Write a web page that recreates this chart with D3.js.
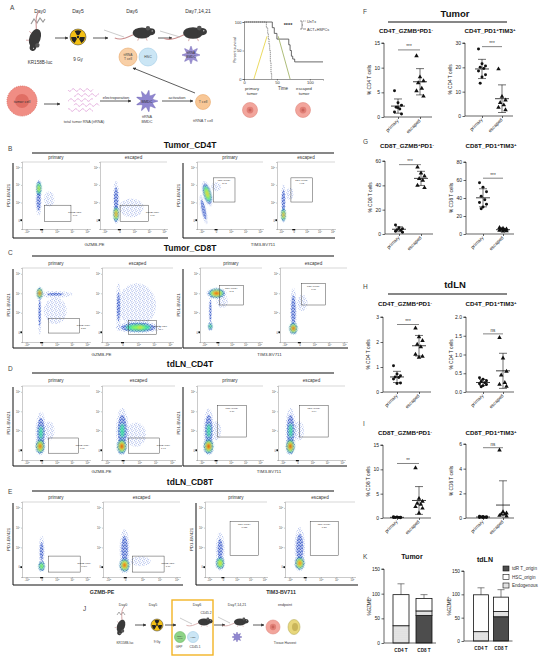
<!DOCTYPE html>
<html>
<head>
<meta charset="utf-8">
<script src="https://cdn.jsdelivr.net/npm/d3@7"></script>
<style>
  body { margin: 0; background: #fff; }
  text { font-family: "Liberation Sans", Arial, sans-serif; }
</style>
</head>
<body>
<svg id="fig" width="550" height="660"></svg>
<script>
// ---------- panel A survival ----------
var survUnTxTime = [0, 34, 36, 37, 38, 39, 40, 41, 42];
var survUnTx     = [100, 90, 80, 70, 60, 50, 30, 10, 0];
var survActTime  = [0, 43, 46, 50, 68, 70, 72, 74, 77, 120];
var survAct      = [100, 90, 80, 70, 60, 50, 40, 35, 30, 30];
var survYellow   = [[15, 0], [35, 75]];
var survGreen    = [[52, 75], [70, 0]];
var survTicks    = [0, 50, 100];

// ---------- flow plots (B-E) ----------
var flowRowTitles = ["Tumor_CD4T", "Tumor_CD8T", "tdLN_CD4T", "tdLN_CD8T"];
var flowGroups = ["primary", "escaped", "primary", "escaped"];
var flowXLabels = ["GZMB-PE", "TIM3-BV711"];
var flowYLabel = "PD1-BV421";
var flowGateNames = ["GZMB+PD1-", "GZMB+PD1-", "PD1+TIM3+", "PD1+TIM3+"];
var flowXTicks = [-1, 0, 1, 2, 3];
var flowYTicks = [0, 1, 2, 3];
var flowXDomain = [-1.3, 3.2];
var flowYDomain = [-0.5, 3.3];
// clusters: [x, y, spreadX, spreadY, peak density, angle]
var tumorCD4Clusters = [
  [[-0.2, 1.1, 0.12, 0.5, 0.3, 0], [-0.18, 1.8, 0.1, 0.25, 0.65, 0], [0.5, 1.2, 0.5, 0.6, 0.09, 0]],
  [[-0.22, 1.2, 0.13, 0.6, 0.3, 0], [-0.22, 0.35, 0.1, 0.25, 0.85, 0], [0.8, 0.7, 0.7, 0.45, 0.14, 0]],
  [[-0.85, 0.6, 0.12, 0.5, 0.3, -12], [-0.6, 1.5, 0.15, 0.35, 0.7, -15], [0.0, 1.9, 0.4, 0.3, 0.1, 0]],
  [[-0.8, 1.1, 0.12, 0.55, 0.3, 0], [-0.8, 0.3, 0.1, 0.2, 0.85, 0], [-0.3, 1.5, 0.4, 0.5, 0.09, 0]]
];
var tumorCD8Clusters = [
  [[-0.13, 2.0, 0.1, 0.15, 1.0, 0], [-0.13, 1.0, 0.08, 0.7, 0.25, 0], [0.9, 1.95, 0.8, 0.12, 0.2, 0], [0.9, 1.1, 0.9, 0.8, 0.1, 0]],
  [[0.9, 1.4, 1.1, 1.0, 0.13, 0], [-0.26, 1.3, 0.1, 0.8, 0.25, 0], [1.0, 0.25, 0.7, 0.15, 0.55, 0], [1.1, 0.25, 0.25, 0.1, 0.7, 0]],
  [[-0.1, 2.0, 0.32, 0.13, 0.95, 0], [-0.55, 1.1, 0.08, 0.6, 0.25, 0], [-0.55, 0.3, 0.1, 0.12, 0.5, 0], [0.3, 1.6, 0.6, 0.5, 0.09, 0]],
  [[-0.4, 0.2, 0.14, 0.15, 1.0, 0], [-0.4, 1.1, 0.13, 0.7, 0.3, 0], [0.2, 1.5, 0.5, 0.6, 0.09, 0]]
];
var lnCD4Clusters = [
  [[-0.1, 0.2, 0.15, 0.2, 0.95, 0], [-0.05, 0.9, 0.2, 0.6, 0.35, 0], [0.5, 1.0, 0.5, 0.7, 0.09, 0]],
  [[-0.08, 0.2, 0.15, 0.2, 1.0, 0], [-0.05, 1.0, 0.22, 0.65, 0.35, 0], [0.8, 0.8, 0.6, 0.6, 0.12, 0]],
  [[-0.51, 0.2, 0.17, 0.2, 1.0, 0], [-0.5, 1.0, 0.2, 0.65, 0.35, 0], [0.0, 1.0, 0.5, 0.7, 0.09, 0]],
  [[-0.47, 0.2, 0.15, 0.2, 1.0, 0], [-0.45, 1.0, 0.2, 0.65, 0.35, 0], [0.1, 1.0, 0.5, 0.7, 0.09, 0]]
];
var lnCD8Clusters = [
  [[0.0, 0.05, 0.12, 0.15, 0.6, 0], [0.0, 0.8, 0.12, 0.5, 0.25, 0]],
  [[-0.04, 0.1, 0.15, 0.18, 0.95, 0], [-0.04, 0.9, 0.17, 0.6, 0.3, 0], [0.9, 0.3, 0.7, 0.3, 0.1, 0]],
  [[-0.2, 0.2, 0.17, 0.18, 0.7, 0], [-0.2, 0.9, 0.2, 0.55, 0.25, 0]],
  [[-0.35, 0.2, 0.16, 0.18, 0.9, 0], [-0.35, 1.0, 0.2, 0.6, 0.3, 0]]
];
// gates: [x0, x1, y0, y1]
var tumorCD4Gates = [[0.19, 1.94, -0.07, 0.85], [0.05, 1.96, -0.07, 0.85], [-0.18, 1.29, 1.03, 2.4], [-0.22, 1.45, 1.03, 2.4]];
var tumorCD8Gates = [[0.46, 2.5, -0.04, 0.72], [0.37, 2.17, -0.1, 0.6], [0.1, 1.85, 1.4, 2.4], [0.16, 1.74, 1.4, 2.5]];
var lnCD4Gates = [[0.46, 2.43, -0.15, 0.63], [0.33, 2.24, -0.15, 0.63], [0.1, 2.07, 0.68, 2.3], [0.16, 2.07, 0.68, 2.3]];
var lnCD8Gates = [[0.46, 2.55, -0.25, 0.56], [0.41, 2.27, -0.25, 0.56], [0.52, 2.6, 0.6, 2.3], [0.32, 2.12, 0.6, 2.3]];
var tumorCD4Pct = ["1.91", "7.09", "19.3", "4.73"];
var tumorCD8Pct = ["3.38", "45.4", "41.2", "1.68"];
var lnCD4Pct = ["0.61", "1.91", "0.19", "0.64"];
var lnCD8Pct = ["0.094", "1.79", "0.031", "0.38"];

// ---------- dot plots (F-I) ----------
var dotGroups = ["primary", "escaped"];
var fCd4GzmbPrimary = [5.3, 2.9, 2.4, 2.0, 1.6, 1.0, 0.6, 1.9];
var fCd4GzmbEscaped = [12.4, 8.1, 7.3, 6.9, 5.8, 5.3, 4.2];
var fCd4TimPrimary  = [27.5, 21.5, 20.5, 20, 19.5, 18.5, 17, 16, 13.5];
var fCd4TimEscaped  = [19.3, 8, 6.5, 5.5, 4.5, 3.5, 2.5];
var gCd8GzmbPrimary = [7.5, 5.2, 4.3, 3.6, 3.0, 2.2, 1.4];
var gCd8GzmbEscaped = [55, 50, 47.5, 45.5, 44, 40, 38];
var gCd8TimPrimary  = [57, 52, 47, 42, 38, 35, 33, 30, 28];
var gCd8TimEscaped  = [7, 6.2, 5.4, 5, 4.4, 4, 3.4, 3];
var hCd4GzmbPrimary = [1.05, 0.72, 0.65, 0.6, 0.58, 0.52, 0.36, 0.34];
var hCd4GzmbEscaped = [2.55, 2.2, 2.05, 1.9, 1.8, 1.5, 1.42, 1.38];
var hCd4TimPrimary  = [0.38, 0.34, 0.3, 0.28, 0.25, 0.22, 0.2, 0.17, 0.14];
var hCd4TimEscaped  = [1.45, 0.9, 0.55, 0.45, 0.25, 0.2, 0.15];
var iCd8GzmbPrimary = [0.25, 0.2, 0.15, 0.12, 0.1, 0.08, 0.05];
var iCd8GzmbEscaped = [10.3, 4.0, 3.4, 3.0, 2.8, 2.3, 2.0, 1.0];
var iCd8TimPrimary  = [0.15, 0.12, 0.1, 0.08, 0.06, 0.05, 0.04, 0.03];
var iCd8TimEscaped  = [5.5, 0.5, 0.4, 0.3, 0.3, 0.2, 0.15];

// ---------- panel K stacked bars ----------
var kCategories = ["CD4 T", "CD8 T"];
var kSeries = ["tdR T_origin", "HSC_origin", "Endogenous"];
var kTumorTdr = [0, 56], kTumorEndo = [35, 9], kTumorHsc = [63, 25];
var kTumorTdrSd = [0, 0], kTumorEndoSd = [23, 8], kTumorHscSd = [22, 8];
var kLnTdr = [0, 52], kLnEndo = [20, 11], kLnHsc = [79, 31];
var kLnTdrSd = [0, 0], kLnEndoSd = [15, 8], kLnHscSd = [15, 16];
var kTicks = [0, 50, 100, 150];

var svg = d3.select("#fig");
var defs = svg.append("defs");

// patterns and filters
var pSparse = defs.append("pattern").attr("id", "dotsSparse").attr("patternUnits", "userSpaceOnUse").attr("width", 4).attr("height", 4);
[[0.6, 1.0], [2.5, 0.3], [1.8, 2.3], [3.5, 2.9], [0.8, 3.4], [3.1, 1.6]].forEach(function (p) {
  pSparse.append("circle").attr("cx", p[0]).attr("cy", p[1]).attr("r", 0.35).attr("fill", "#3a5fcf");
});
var pDense = defs.append("pattern").attr("id", "dotsDense").attr("patternUnits", "userSpaceOnUse").attr("width", 3).attr("height", 3);
pDense.append("rect").attr("width", 3).attr("height", 3).attr("fill", "#5f7fe0").attr("opacity", 0.35);
[[0.5, 0.6], [2.0, 1.3], [1.2, 2.4], [2.6, 2.7]].forEach(function (p) {
  pDense.append("circle").attr("cx", p[0]).attr("cy", p[1]).attr("r", 0.5).attr("fill", "#2748bd");
});
var pEndo = defs.append("pattern").attr("id", "endoDots").attr("patternUnits", "userSpaceOnUse").attr("width", 2).attr("height", 2);
pEndo.append("rect").attr("width", 2).attr("height", 2).attr("fill", "#e6e6e6");
pEndo.append("circle").attr("cx", 1).attr("cy", 1).attr("r", 0.35).attr("fill", "#aaa");
defs.append("filter").attr("id", "blur").attr("x", "-50%").attr("y", "-50%").attr("width", "200%").attr("height", "200%")
  .append("feGaussianBlur").attr("stdDeviation", 0.8);
defs.append("marker").attr("id", "arr").attr("viewBox", "0 0 10 10").attr("refX", 9).attr("refY", 5)
  .attr("markerWidth", 4).attr("markerHeight", 4).attr("orient", "auto")
  .append("path").attr("d", "M0,0 L10,5 L0,10 z").attr("fill", "#333");

function txt(g, x, y, s, size, o) {
  o = o || {};
  return g.append("text").attr("x", x).attr("y", y).text(s)
    .attr("font-size", size)
    .attr("text-anchor", o.anchor || "middle")
    .attr("font-weight", o.weight || "normal")
    .attr("fill", o.fill || "#222")
    .attr("font-family", o.family || null);
}
// text where ^x marks a superscript character
function supText(g, x, y, s, size, o) {
  var t = txt(g, x, y, "", size, o);
  var parts = s.split(/\^(.)/);
  parts.forEach(function (p, i) {
    if (!p) return;
    if (i % 2 === 1) t.append("tspan").attr("dy", -size * 0.4).attr("font-size", size * 0.7).text(p);
    else t.append("tspan").attr("dy", i > 0 ? size * 0.4 : 0).text(p);
  });
  return t;
}
function line(g, x1, y1, x2, y2, w, c) {
  return g.append("line").attr("x1", x1).attr("y1", y1).attr("x2", x2).attr("y2", y2)
    .attr("stroke", c || "#222").attr("stroke-width", w || 1);
}
function arrow(g, x1, y1, x2, y2) {
  line(g, x1, y1, x2, y2, 0.8, "#333").attr("marker-end", "url(#arr)");
}

// ---------- panel letters ----------
[["A", 10, 10], ["B", 8, 151], ["C", 8, 255], ["D", 8, 371], ["E", 8, 494], ["J", 83, 611],
 ["F", 363, 14], ["G", 363, 144], ["H", 363, 289], ["I", 363, 426], ["K", 363, 559]].forEach(function (l) {
  txt(svg, l[1], l[2], l[0], 6.5, { anchor: "start", fill: "#444" });
});

// ---------- cartoon helpers ----------
function mouse(g, x, y, s, rot) {
  var m = g.append("g").attr("transform", "translate(" + x + "," + y + ") rotate(" + (rot || 0) + ") scale(" + s + ")");
  m.append("path").attr("d", "M-10,2 C-18,5 -24,9 -32,6").attr("fill", "none").attr("stroke", "#c98d8d").attr("stroke-width", 1.2);
  m.append("ellipse").attr("rx", 11).attr("ry", 6.5).attr("fill", "#3a3a3a");
  m.append("ellipse").attr("cx", 10).attr("cy", -1.5).attr("rx", 5.5).attr("ry", 4).attr("fill", "#3a3a3a");
  m.append("circle").attr("cx", 7).attr("cy", -5.5).attr("r", 2.6).attr("fill", "#555");
  m.append("circle").attr("cx", 12).attr("cy", -2.5).attr("r", 0.7).attr("fill", "#ddd");
  m.append("path").attr("d", "M-4,6 l-1,3 M5,6 l1,3").attr("stroke", "#c98d8d").attr("stroke-width", 0.8);
}
function radiation(g, x, y, r) {
  g.append("circle").attr("cx", x).attr("cy", y).attr("r", r).attr("fill", "#f3c014").attr("stroke", "#333").attr("stroke-width", 0.5);
  var a = d3.arc().innerRadius(r * 0.25).outerRadius(r * 0.85);
  [0, 120, 240].forEach(function (d) {
    g.append("path").attr("transform", "translate(" + x + "," + y + ")")
      .attr("d", a({ startAngle: (d - 30) * Math.PI / 180, endAngle: (d + 30) * Math.PI / 180 })).attr("fill", "#222");
  });
  g.append("circle").attr("cx", x).attr("cy", y).attr("r", r * 0.15).attr("fill", "#222");
}
function star(g, x, y, r, n, fill) {
  var pts = d3.range(2 * n).map(function (i) {
    var rr = i % 2 ? r * 0.55 : r, ang = i * Math.PI / n;
    return [x + rr * Math.cos(ang), y + rr * Math.sin(ang)];
  });
  g.append("path").attr("d", d3.line().curve(d3.curveCardinalClosed.tension(0.3))(pts))
    .attr("fill", fill).attr("stroke", "#6a5fb0").attr("stroke-width", 0.4);
}
function cell(g, x, y, r, fill, stroke, label, size) {
  g.append("circle").attr("cx", x).attr("cy", y).attr("r", r).attr("fill", fill).attr("stroke", stroke).attr("stroke-width", 0.6);
  if (label) label.forEach(function (l, i) {
    txt(g, x, y + (i - (label.length - 1) / 2) * size * 1.1 + size * 0.35, l, size, { fill: "#444" });
  });
}
function tumorCell(g, x, y, r) {
  g.append("circle").attr("cx", x).attr("cy", y).attr("r", r).attr("fill", "#f2a59c").attr("stroke", "#e08a80").attr("stroke-width", 0.6);
  g.append("circle").attr("cx", x).attr("cy", y).attr("r", r * 0.45).attr("fill", "#e07f76");
  g.append("circle").attr("cx", x).attr("cy", y).attr("r", r * 0.2).attr("fill", "#c9655d");
}

// ---------- panel A schematic ----------
var gA = svg.append("g");
[["Day0", 40], ["Day5", 78], ["Day6", 132], ["Day7,14,21", 198]].forEach(function (d) {
  txt(gA, d[1], 13, d[0], 5, { fill: "#333" });
});
// held mouse
gA.append("path").attr("d", "M31,24 l3,-5 l3,4 l3,-5 l3,4 l2,-3").attr("fill", "none").attr("stroke", "#999").attr("stroke-width", 1.2);
mouse(gA, 35, 38, 0.85, 110);
txt(gA, 40, 64, "KR158B-luc", 4.6, { fill: "#333" });
arrow(gA, 55, 38, 68, 38);
radiation(gA, 78, 37, 8);
txt(gA, 78, 61, "9 Gy", 4.6, { fill: "#333" });
arrow(gA, 93, 38, 108, 38);
mouse(gA, 142, 33, 0.85, 0);
line(gA, 104, 30, 124, 37, 0.6, "#aaa");
arrow(gA, 158, 38, 172, 38);
mouse(gA, 193, 33, 0.9, 0);
line(gA, 160, 31, 180, 37, 0.6, "#aaa");
cell(gA, 128, 57, 9, "#f8cfa6", "#eaa869", ["ttRNA", "T cell"], 3.3);
cell(gA, 148, 57, 9, "#cbe6f5", "#9fcbe6", ["HSC"], 3.5);
star(gA, 191, 55, 9, 8, "#9b90d3");
txt(gA, 191, 54, "ttRNA", 3.2, { fill: "#333" }); txt(gA, 191, 58, "BMDC", 3.2, { fill: "#333" });
// bottom row
gA.append("circle").attr("cx", 22).attr("cy", 101).attr("r", 15).attr("fill", "#f08d84").attr("stroke", "#e06e64").attr("stroke-dasharray", "1,1");
gA.append("circle").attr("cx", 22).attr("cy", 101).attr("r", 7).attr("fill", "#e06e64");
txt(gA, 22, 102.5, "tumor cell", 3.8, { fill: "#333" });
arrow(gA, 44, 104, 60, 104);
[90, 95, 100, 105, 110].forEach(function (yy, i) {
  var x0 = 68 + (i % 2) * 6;
  var pts = d3.range(0, 26, 1).map(function (t) { return [x0 + t, yy + 1.4 * Math.sin(t * 0.9 + i)]; });
  gA.append("path").attr("d", d3.line()(pts)).attr("fill", "none").attr("stroke", "#d98ed0").attr("stroke-width", 0.6);
});
txt(gA, 84, 123, "total tumor RNA (ttRNA)", 3.8, { fill: "#444" });
arrow(gA, 100, 101, 131, 101);
txt(gA, 116, 99, "electroporation", 4, { fill: "#333" });
star(gA, 147, 101, 11, 9, "#8f86cf");
txt(gA, 147, 102.5, "BMDC", 3.8, { fill: "#333" });
txt(gA, 147, 118, "ttRNA", 3.8, { fill: "#444" }); txt(gA, 147, 123, "BMDC", 3.8, { fill: "#444" });
arrow(gA, 162, 101, 193, 101);
txt(gA, 177, 99, "activation", 4, { fill: "#333" });
cell(gA, 203, 102, 7.5, "#f8c796", "#eaa869", ["T cell"], 3.6);
txt(gA, 203, 122, "ttRNA T cell", 3.8, { fill: "#444" });
arrow(gA, 195, 93, 133, 68);

// ---------- panel A survival ----------
var sx = d3.scaleLinear().domain([0, 120]).range([244, 323]);
var sy = d3.scaleLinear().domain([0, 100]).range([79, 22]);
var gS = svg.append("g");
gS.append("g").attr("transform", "translate(0,79)").call(d3.axisBottom(sx).tickValues(survTicks).tickSize(1.5).tickPadding(1))
  .call(function (a) { a.selectAll("text").attr("font-size", 4).attr("fill", "#333"); a.selectAll("path,line").attr("stroke", "#333").attr("stroke-width", 0.5); });
gS.append("g").attr("transform", "translate(244,0)").call(d3.axisLeft(sy).tickValues(survTicks).tickSize(1.5).tickPadding(1))
  .call(function (a) { a.selectAll("text").attr("font-size", 4).attr("fill", "#333"); a.selectAll("path,line").attr("stroke", "#333").attr("stroke-width", 0.5); });
txt(gS, 0, 0, "Percent survival", 3.6, { fill: "#333" }).attr("transform", "translate(236,50) rotate(-90)");
txt(gS, 283, 90, "Time", 4.5, { fill: "#333" });
var stepLine = d3.line().x(function (d) { return sx(d[0]); }).y(function (d) { return sy(d[1]); }).curve(d3.curveStepAfter);
gS.append("path").attr("d", stepLine(d3.zip(survUnTxTime, survUnTx))).attr("fill", "none").attr("stroke", "#555").attr("stroke-width", 0.7).attr("stroke-dasharray", "1.2,0.8");
gS.append("path").attr("d", stepLine(d3.zip(survActTime, survAct))).attr("fill", "none").attr("stroke", "#444").attr("stroke-width", 0.8);
var plainLine = d3.line().x(function (d) { return sx(d[0]); }).y(function (d) { return sy(d[1]); });
gS.append("path").attr("d", plainLine(survYellow)).attr("stroke", "#e9d64f").attr("stroke-width", 0.9).attr("fill", "none");
gS.append("path").attr("d", plainLine(survGreen)).attr("stroke", "#a5b56b").attr("stroke-width", 0.9).attr("fill", "none");
txt(gS, 288, 27, "****", 5.5, { weight: "bold", fill: "#333" });
gS.append("path").attr("d", "M300,21 h2 v8 h-2 M302,25 h1").attr("fill", "none").attr("stroke", "#333").attr("stroke-width", 0.5);
line(gS, 303, 21, 306, 21, 0.6, "#555").attr("stroke-dasharray", "1,0.6");
line(gS, 303, 29, 306, 29, 0.6, "#444");
txt(gS, 307, 22.5, "UnTx", 3.8, { anchor: "start", fill: "#333" });
txt(gS, 307, 30.5, "ACT+HSPCs", 3.8, { anchor: "start", fill: "#333" });
txt(gS, 252, 90, "primary", 4.2, { fill: "#333" }); txt(gS, 252, 95, "tumor", 4.2, { fill: "#333" });
txt(gS, 304, 90, "escaped", 4.2, { fill: "#333" }); txt(gS, 304, 95, "tumor", 4.2, { fill: "#333" });
tumorCell(gS, 250, 110, 7.5);
tumorCell(gS, 303, 110, 7.5);

// ---------- flow plots ----------
var flowLevels = [0.07, 0.16, 0.3, 0.45, 0.6, 0.75, 0.9];
var flowRows = [
  { clusters: tumorCD4Clusters, gates: tumorCD4Gates, pct: tumorCD4Pct, titleY: 148, lineY: 153, labelY: 159, top: 162, bottom: 229, frameB: 238, xlabY: 246,
    cols: [[22, 90], [100, 167], [197, 263], [277, 335]], frames: [[13, 168], [183, 335]], ylabX: [8, 178] },
  { clusters: tumorCD8Clusters, gates: tumorCD8Gates, pct: tumorCD8Pct, titleY: 251, lineY: 256, labelY: 265, top: 268, bottom: 342, frameB: 348, xlabY: 356,
    cols: [[22, 90], [102, 173], [200, 262], [280, 347]], frames: [[13, 182], [183, 348]], ylabX: [8, 178] },
  { clusters: lnCD4Clusters, gates: lnCD4Gates, pct: lnCD4Pct, titleY: 367, lineY: 373, labelY: 382, top: 386, bottom: 460, frameB: 466, xlabY: 473,
    cols: [[22, 90], [102, 175], [197, 263], [278, 345]], frames: [[13, 182], [183, 347]], ylabX: [8, 178] },
  { clusters: lnCD8Clusters, gates: lnCD8Gates, pct: lnCD8Pct, titleY: 485, lineY: 491, labelY: 499, top: 502, bottom: 577, frameB: 585, xlabY: 594,
    cols: [[22, 90], [103, 180], [205, 267], [285, 355]], frames: [[13, 183], [196, 358]], ylabX: [8, 191] }
];

function expLabel(sel, d, size) {
  sel.text(null);
  if (d === 0) { sel.text("0"); return; }
  sel.append("tspan").text((d < 0 ? "-" : "") + "10");
  sel.append("tspan").attr("dy", -size * 0.4).attr("font-size", size * 0.7).text(Math.abs(d) + 2);
}

function flowPlot(g, row, k, ri) {
  var c = row.cols[k];
  var xs = d3.scaleLinear().domain(flowXDomain).range([c[0], c[1]]);
  var ys = d3.scaleLinear().domain(flowYDomain).range([row.bottom, row.top]);
  var cid = "clip" + ri + "_" + k;
  defs.append("clipPath").attr("id", cid).append("rect")
    .attr("x", c[0]).attr("y", row.top).attr("width", c[1] - c[0]).attr("height", row.bottom - row.top);
  var kx = Math.abs(xs(1) - xs(0)), ky = Math.abs(ys(1) - ys(0));
  var shapes = [];
  row.clusters[k].forEach(function (cl) {
    flowLevels.forEach(function (L, li) {
      if (L >= cl[4]) return;
      var r = Math.sqrt(2 * Math.log(cl[4] / L));
      shapes.push({ cx: xs(cl[0]), cy: ys(cl[1]), rx: r * cl[2] * kx, ry: r * cl[3] * ky, a: cl[5], L: L, li: li });
    });
  });
  shapes.sort(function (a, b) { return a.L - b.L; });
  var pg = g.append("g").attr("clip-path", "url(#" + cid + ")");
  pg.selectAll("ellipse.dots").data(shapes.filter(function (s) { return s.li < 2; })).enter().append("ellipse")
    .attr("cx", function (s) { return s.cx; }).attr("cy", function (s) { return s.cy; })
    .attr("rx", function (s) { return s.rx; }).attr("ry", function (s) { return s.ry; })
    .attr("transform", function (s) { return "rotate(" + s.a + "," + s.cx + "," + s.cy + ")"; })
    .attr("fill", function (s) { return s.li === 0 ? "url(#dotsSparse)" : "url(#dotsDense)"; });
  pg.append("g").attr("filter", "url(#blur)").selectAll("ellipse").data(shapes.filter(function (s) { return s.li >= 2; })).enter().append("ellipse")
    .attr("cx", function (s) { return s.cx; }).attr("cy", function (s) { return s.cy; })
    .attr("rx", function (s) { return s.rx; }).attr("ry", function (s) { return s.ry; })
    .attr("transform", function (s) { return "rotate(" + s.a + "," + s.cx + "," + s.cy + ")"; })
    .attr("fill", function (s) { return d3.interpolateTurbo(0.1 + 0.87 * s.L); })
    .attr("opacity", function (s) { return s.li === 2 ? 0.85 : 1; });
  // gate
  var gt = row.gates[k];
  g.append("rect").attr("x", xs(gt[0])).attr("y", ys(gt[3])).attr("width", xs(gt[1]) - xs(gt[0])).attr("height", ys(gt[2]) - ys(gt[3]))
    .attr("fill", "none").attr("stroke", "#333").attr("stroke-width", 0.45);
  if (k < 2) {
    var lx = xs(gt[1]) + 4, ly = (ys(gt[2]) + ys(gt[3])) / 2;
    txt(g, lx, ly, flowGateNames[k], 2.4, { fill: "#333" });
    txt(g, lx, ly + 3, row.pct[k], 2.4, { fill: "#333" });
  } else {
    var mx = (xs(gt[0]) + xs(gt[1])) / 2, my = ys(gt[3]) + 3.5;
    txt(g, mx, my, flowGateNames[k], 2.4, { fill: "#333" });
    txt(g, mx, my + 3, row.pct[k], 2.4, { fill: "#333" });
  }
  // axes
  var ax = g.append("g").attr("transform", "translate(" + c[0] + ",0)").call(d3.axisLeft(ys).tickValues(flowYTicks).tickSize(1).tickPadding(1));
  ax.selectAll("text").attr("font-size", 2.6).attr("fill", "#444").each(function (d) { expLabel(d3.select(this), d, 2.6); });
  ax.selectAll("path,line").attr("stroke", "#666").attr("stroke-width", 0.35);
  var bx = g.append("g").attr("transform", "translate(0," + row.bottom + ")").call(d3.axisBottom(xs).tickValues(flowXTicks).tickSize(1).tickPadding(1));
  bx.selectAll("text").attr("font-size", 2.6).attr("fill", "#444").each(function (d) { expLabel(d3.select(this), d, 2.6); });
  bx.selectAll("path,line").attr("stroke", "#666").attr("stroke-width", 0.35);
  g.append("rect").attr("x", c[0] - 1.6).attr("y", ys(0) - 0.9).attr("width", 1.6).attr("height", 1.8).attr("fill", "#111");
  g.append("rect").attr("x", xs(0) - 1.5).attr("y", row.bottom).attr("width", 3).attr("height", 1.3).attr("fill", "#111");
  line(g, c[0], row.top, c[1], row.top, 0.4, "#9a9a9a");
  txt(g, (c[0] + c[1]) / 2, row.labelY, flowGroups[k], 4.6, { fill: "#333" });
}

flowRows.forEach(function (row, ri) {
  var g = svg.append("g");
  txt(g, 190, row.titleY, flowRowTitles[ri], 8.5, { weight: "bold", fill: "#111" });
  line(g, 32, row.lineY, 334, row.lineY, 1.1, "#111");
  [0, 1, 2, 3].forEach(function (k) { flowPlot(g, row, k, ri); });
  row.frames.forEach(function (f, fi) {
    g.append("path").attr("d", "M" + f[0] + "," + (row.top + 1) + " V" + row.frameB + " H" + f[1])
      .attr("fill", "none").attr("stroke", "#111").attr("stroke-width", 1);
    txt(g, 0, 0, flowYLabel, 4.4, { fill: "#333" })
      .attr("transform", "translate(" + (row.ylabX[fi] + 1.5) + "," + ((row.top + row.bottom) / 2) + ") rotate(-90)");
    txt(g, (f[0] + f[1]) / 2 + 4, row.xlabY, flowXLabels[fi], ri === 3 ? 5.3 : 4.4, { fill: "#333", weight: ri === 3 ? "bold" : "normal" });
  });
});

// ---------- dot plots F-I ----------
var jitter = [-3.5, 0, 3.5, -1.8, 1.8, -3.5, 3.5, 0, -1.8];
var dotPanels = [
  { title: "CD4T_GZMB^+PD1^-", yl: "% CD4 T cells", p: fCd4GzmbPrimary, e: fCd4GzmbEscaped, max: 15, ticks: [0, 5, 10, 15], sig: "***", sigY: 13.6, ax: 384, top: 43, bottom: 117, titleY: 33, fmt: "d" },
  { title: "CD4T_PD1^+TIM3^+", yl: "% CD4 T cells", p: fCd4TimPrimary, e: fCd4TimEscaped, max: 30, ticks: [0, 10, 20, 30], sig: "***", sigY: 28.5, ax: 465, top: 43, bottom: 116, titleY: 33, fmt: "d" },
  { title: "CD8T_GZMB^+PD1^-", yl: "% CD8 T cells", p: gCd8GzmbPrimary, e: gCd8GzmbEscaped, max: 60, ticks: [0, 20, 40, 60], sig: "***", sigY: 57, ax: 385, top: 161, bottom: 234, titleY: 148, fmt: "d" },
  { title: "CD8T_PD1^+TIM3^+", yl: "% CD8 T cells", p: gCd8TimPrimary, e: gCd8TimEscaped, max: 80, ticks: [0, 20, 40, 60, 80], sig: "***", sigY: 62, ax: 466, top: 162, bottom: 234, titleY: 148, fmt: "d" },
  { title: "CD4T_GZMB^+PD1^-", yl: "% CD4 T cells", p: hCd4GzmbPrimary, e: hCd4GzmbEscaped, max: 3, ticks: [0, 1, 2, 3], sig: "***", sigY: 2.7, ax: 383, top: 317, bottom: 392, titleY: 306, fmt: "d" },
  { title: "CD4T_PD1^+TIM3^+", yl: "% CD4 T cells", p: hCd4TimPrimary, e: hCd4TimEscaped, max: 2, ticks: [0, 0.5, 1, 1.5, 2], sig: "ns", sigY: 1.55, ax: 466, top: 317, bottom: 392, titleY: 306, fmt: ".1f" },
  { title: "CD8T_GZMB^+PD1^-", yl: "% CD8 T cells", p: iCd8GzmbPrimary, e: iCd8GzmbEscaped, max: 15, ticks: [0, 5, 10, 15], sig: "**", sigY: 11.2, ax: 383, top: 445, bottom: 518, titleY: 435, fmt: "d" },
  { title: "CD8T_PD1^+TIM3^+", yl: "% CD8 T cells", p: iCd8TimPrimary, e: iCd8TimEscaped, max: 6, ticks: [0, 2, 4, 6], sig: "ns", sigY: 5.7, ax: 466, top: 444, bottom: 518, titleY: 435, fmt: "d" }
];
dotPanels.forEach(function (s, i) {
  var g = svg.append("g");
  var right = i % 2 === 1;
  var y = d3.scaleLinear().domain([0, s.max]).range([s.bottom, s.top]);
  var x = d3.scalePoint().domain(dotGroups).range(right ? [s.ax + 17, s.ax + 37] : [s.ax + 14, s.ax + 36]);
  var ya = g.append("g").attr("transform", "translate(" + s.ax + ",0)")
    .call(d3.axisLeft(y).tickValues(s.ticks).tickSize(2.5).tickPadding(1.5).tickFormat(d3.format(s.fmt)));
  ya.selectAll("text").attr("font-size", 5).attr("fill", "#222");
  ya.selectAll("path,line").attr("stroke", "#222").attr("stroke-width", 0.7);
  ya.select(".domain").attr("d", "M-2.5," + s.top + "H0V" + s.bottom);
  var xa = g.append("g").attr("transform", "translate(0," + s.bottom + ")")
    .call(d3.axisBottom(x).tickSize(2).tickFormat(""));
  xa.select(".domain").attr("d", "M" + s.ax + ",0H" + (s.ax + 48));
  xa.selectAll("path,line").attr("stroke", "#222").attr("stroke-width", 0.7);
  dotGroups.forEach(function (grp) {
    txt(g, 0, 0, grp, 4.8, { anchor: "end", fill: "#222" })
      .attr("transform", "translate(" + (x(grp) + 1) + "," + (s.bottom + 4) + ") rotate(-45)");
  });
  supText(g, right ? s.ax + 25 : s.ax + 22, s.titleY, s.title, 6.2, { weight: "bold", fill: "#111" });
  txt(g, 0, 0, s.yl, 4.8, { fill: "#222" }).attr("transform", "translate(" + (s.ax - 13) + "," + ((s.top + s.bottom) / 2) + ") rotate(-90)");
  [[s.p, "primary"], [s.e, "escaped"]].forEach(function (pair) {
    var vals = pair[0], cx = x(pair[1]);
    var sym = d3.symbol().type(pair[1] === "primary" ? d3.symbolCircle : d3.symbolTriangle).size(pair[1] === "primary" ? 7 : 9);
    g.selectAll(null).data(vals).enter().append("path")
      .attr("d", sym).attr("fill", "#111")
      .attr("transform", function (d, j) { return "translate(" + (cx + jitter[j % jitter.length]) + "," + y(d) + ")"; });
    var m = d3.mean(vals), sd = d3.deviation(vals);
    line(g, cx - 7, y(m), cx + 7, y(m), 0.8, "#111");
    line(g, cx, y(Math.max(0, m - sd)), cx, y(m + sd), 0.6, "#111");
    line(g, cx - 4, y(m + sd), cx + 4, y(m + sd), 0.6, "#111");
    if (m - sd > 0) line(g, cx - 4, y(m - sd), cx + 4, y(m - sd), 0.6, "#111");
  });
  line(g, x("primary"), y(s.sigY), x("escaped"), y(s.sigY), 0.6, "#333");
  txt(g, (x("primary") + x("escaped")) / 2, y(s.sigY) - 1.5, s.sig, 4.6, { fill: "#333" });
});
// section headings for F and H
txt(svg, 455, 17, "Tumor", 9.5, { weight: "bold", family: "Liberation Serif, Times New Roman, serif", fill: "#111" });
line(svg, 388, 22, 507, 22, 1.2, "#111");
txt(svg, 455, 288, "tdLN", 9.5, { weight: "bold", family: "Liberation Serif, Times New Roman, serif", fill: "#111" });
line(svg, 388, 294, 507, 294, 1.2, "#111");

// ---------- panel K ----------
var kFill = { "tdR T_origin": "#4d4d4d", "HSC_origin": "#ffffff", "Endogenous": "url(#endoDots)" };
function stackPanel(title, titleX, titleY, ax, y0, y150, cx, bw, tdr, endo, hsc, tdrSd, endoSd, hscSd) {
  var g = svg.append("g");
  var y = d3.scaleLinear().domain([0, 150]).range([y0, y150]);
  var x = d3.scalePoint().domain(kCategories).range(cx);
  var rows = kCategories.map(function (c, i) {
    return { cat: c, "tdR T_origin": tdr[i], "Endogenous": endo[i], "HSC_origin": hsc[i] };
  });
  var sds = { "tdR T_origin": tdrSd, "Endogenous": endoSd, "HSC_origin": hscSd };
  var stack = d3.stack().keys(["tdR T_origin", "Endogenous", "HSC_origin"])(rows);
  stack.forEach(function (layer) {
    layer.forEach(function (d, i) {
      if (d[1] - d[0] <= 0) return;
      var xc = x(d.data.cat);
      g.append("rect").attr("x", xc - bw / 2).attr("y", y(d[1])).attr("width", bw).attr("height", y(d[0]) - y(d[1]))
        .attr("fill", kFill[layer.key]).attr("stroke", "#111").attr("stroke-width", 0.8);
      var sd = sds[layer.key][i];
      if (sd > 0) {
        line(g, xc, y(d[1]), xc, y(d[1] + sd), 0.6, "#333");
        line(g, xc - 3.5, y(d[1] + sd), xc + 3.5, y(d[1] + sd), 0.6, "#333");
      }
    });
  });
  var ya = g.append("g").attr("transform", "translate(" + ax + ",0)").call(d3.axisLeft(y).tickValues(kTicks).tickSize(2.5).tickPadding(1.5));
  ya.selectAll("text").attr("font-size", 4.8).attr("fill", "#222");
  ya.selectAll("path,line").attr("stroke", "#222").attr("stroke-width", 0.7);
  ya.select(".domain").attr("d", "M-2.5," + y150 + "H0V" + y0);
  line(g, ax, y0, ax + (cx[1] - ax) + bw / 2 + 4, y0, 0.7, "#222");
  kCategories.forEach(function (c) {
    txt(g, x(c), y0 + 9, c, 4.6, { weight: "bold", fill: "#222" });
  });
  txt(g, titleX, titleY, title, 7, { weight: "bold", fill: "#111" });
  supText(g, 0, 0, "%GZMB^+", 4.6, { fill: "#222" }).attr("transform", "translate(" + (ax - 13) + "," + ((y0 + y150) / 2) + ") rotate(-90)");
}
stackPanel("Tumor", 412, 559, 384, 643, 569, [401, 424], 16, kTumorTdr, kTumorEndo, kTumorHsc, kTumorTdrSd, kTumorEndoSd, kTumorHscSd);
stackPanel("tdLN", 485, 562, 464, 641, 571, [481, 501], 15, kLnTdr, kLnEndo, kLnHsc, kLnTdrSd, kLnEndoSd, kLnHscSd);
kSeries.forEach(function (s, i) {
  var yy = 566 + i * 8.5;
  svg.append("rect").attr("x", 503).attr("y", yy).attr("width", 6).attr("height", 5)
    .attr("fill", kFill[s]).attr("stroke", "#111").attr("stroke-width", 0.6);
  txt(svg, 512, yy + 4.3, s, 4.6, { anchor: "start", fill: "#333" });
});

// ---------- panel J schematic ----------
var gJ = svg.append("g");
[["Day0", 123], ["Day5", 153], ["Day6", 197], ["Day7,14,21", 237], ["endpoint", 285]].forEach(function (d) {
  txt(gJ, d[1], 606, d[0], 3.6, { fill: "#333" });
});
gJ.append("rect").attr("x", 172).attr("y", 600).attr("width", 41).attr("height", 55).attr("fill", "none").attr("stroke", "#f2b424").attr("stroke-width", 1.4);
gJ.append("path").attr("d", "M117,615 l2,-3 l2,3 l2,-3 l2,3").attr("fill", "none").attr("stroke", "#888").attr("stroke-width", 0.7);
mouse(gJ, 121, 626, 0.6, 110);
txt(gJ, 125, 644, "KR158B-luc", 3.2, { fill: "#333" });
arrow(gJ, 135, 625, 146, 625);
radiation(gJ, 157, 625, 6);
txt(gJ, 157, 643, "9 Gy", 3.2, { fill: "#333" });
arrow(gJ, 165, 625, 176, 625);
mouse(gJ, 204, 622, 0.55, 0);
line(gJ, 180, 618, 192, 624, 0.5, "#999");
txt(gJ, 206, 614, "CD45.2", 3.2, { fill: "#333" });
cell(gJ, 180, 637, 5.5, "#8fd487", "#6bb864", ["ttRNA", "T cell"], 2.2);
cell(gJ, 193, 637, 5.5, "#cbe6f5", "#9fcbe6", ["HSC"], 2.4);
txt(gJ, 179, 648, "GFP", 3.2, { fill: "#333" });
txt(gJ, 195, 648, "CD45.1", 3.2, { fill: "#333" });
arrow(gJ, 214, 625, 225, 625);
mouse(gJ, 240, 622, 0.55, 0);
line(gJ, 218, 617, 230, 623, 0.5, "#999");
star(gJ, 237, 637, 5, 8, "#8f86cf");
arrow(gJ, 253, 625, 264, 625);
tumorCell(gJ, 273, 627, 7);
gJ.append("ellipse").attr("cx", 294).attr("cy", 627).attr("rx", 6).attr("ry", 7.5).attr("fill", "#e8d77c").attr("stroke", "#b8b060").attr("stroke-width", 0.6);
gJ.append("ellipse").attr("cx", 295).attr("cy", 627).attr("rx", 3).attr("ry", 4).attr("fill", "#c9b55a");
txt(gJ, 285, 644, "Tissue Harvest", 3.4, { fill: "#333" });
</script>
</body>
</html>
